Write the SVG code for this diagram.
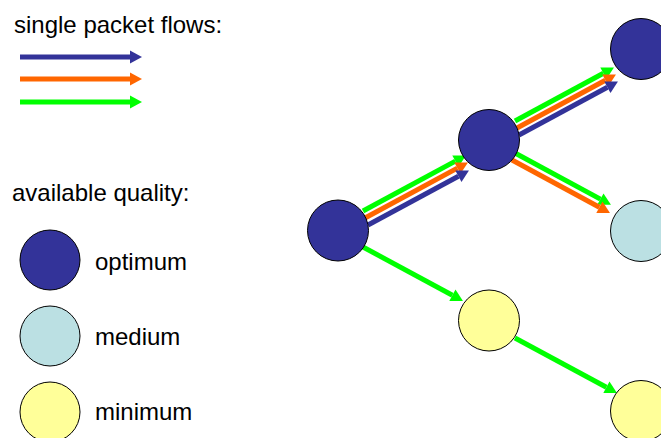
<svg xmlns="http://www.w3.org/2000/svg" width="661" height="438" viewBox="0 0 661 438">
<style>
text{font-family:"Liberation Sans",Arial,sans-serif;font-size:24px;fill:#000}
.n{stroke:#000;stroke-width:1}
.opt{fill:#333399}.med{fill:#BBE0E3}.min{fill:#FFFF99}
.f{fill:none;stroke-width:5}
.b{stroke:#333399;marker-end:url(#mb)}
.o{stroke:#FF6600;marker-end:url(#mo)}
.g{stroke:#00FF00;marker-end:url(#mg)}
</style>
<defs>
<marker id="mb" markerUnits="strokeWidth" markerWidth="2.4" markerHeight="2.6" refX="0" refY="1.3" orient="auto" overflow="visible"><path d="M0,0 L2.4,1.3 L0,2.6 z" fill="#333399"/></marker>
<marker id="mo" markerUnits="strokeWidth" markerWidth="2.4" markerHeight="2.6" refX="0" refY="1.3" orient="auto" overflow="visible"><path d="M0,0 L2.4,1.3 L0,2.6 z" fill="#FF6600"/></marker>
<marker id="mg" markerUnits="strokeWidth" markerWidth="2.4" markerHeight="2.6" refX="0" refY="1.3" orient="auto" overflow="visible"><path d="M0,0 L2.4,1.3 L0,2.6 z" fill="#00FF00"/></marker>
</defs>
<g id="legend">
<text x="14" y="33">single packet flows:</text>
<line class="f b" x1="20" y1="57" x2="130" y2="57"/>
<line class="f o" x1="20" y1="79" x2="130" y2="79"/>
<line class="f g" x1="20" y1="102" x2="130" y2="102"/>
<text x="12" y="201">available quality:</text>
<circle class="n opt" cx="50" cy="260" r="30"/>
<text x="95" y="270">optimum</text>
<circle class="n med" cx="50" cy="336" r="30"/>
<text x="95" y="345">medium</text>
<circle class="n min" cx="50" cy="412" r="30"/>
<text x="95" y="420">minimum</text>
</g>
<g id="connectors">
<line class="f g" x1="363" y1="211" x2="455.4" y2="161.1"/>
<line class="f o" x1="365" y1="218" x2="457.4" y2="168.1"/>
<line class="f b" x1="368" y1="225" x2="458.4" y2="176.2"/>
<line class="f g" x1="515" y1="121" x2="603.4" y2="73.2"/>
<line class="f o" x1="517" y1="128" x2="605.4" y2="80.2"/>
<line class="f b" x1="519" y1="135" x2="607.4" y2="87.2"/>
<line class="f g" x1="515" y1="153" x2="600.4" y2="199.1"/>
<line class="f o" x1="512" y1="160" x2="599.4" y2="207.2"/>
<line class="f g" x1="363" y1="247" x2="452.4" y2="295.3"/>
<line class="f g" x1="515" y1="338" x2="606.4" y2="387.3"/>
</g>
<g id="nodeA"><circle class="n opt" cx="338" cy="230.5" r="30.5"/></g>
<g id="nodeB"><circle class="n opt" cx="489" cy="140" r="30.5"/></g>
<g id="nodeC"><circle class="n opt" cx="641" cy="49" r="30.5"/></g>
<g id="nodeD"><circle class="n med" cx="641" cy="231" r="30.5"/></g>
<g id="nodeE"><circle class="n min" cx="489" cy="320.5" r="30.5"/></g>
<g id="nodeF"><circle class="n min" cx="641" cy="411" r="30.5"/></g>
</svg>
